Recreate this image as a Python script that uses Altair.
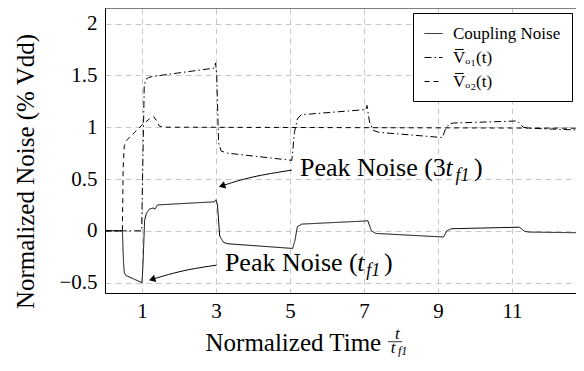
import altair as alt
import pandas as pd

FONT = "Liberation Serif"

# ---- data ----
series_names = ["Coupling Noise", "V\u0305\u2092\u2081(t)", "V\u0305\u2092\u2082(t)"]

cn_x = [0, 0.47, 0.50, 0.52, 0.56, 1.00, 1.03, 1.07, 1.12, 1.20, 1.30, 1.35, 1.42, 2.96, 3.00,
        3.04, 3.10, 3.20, 3.32, 5.07, 5.13, 5.20, 5.32, 7.06, 7.10, 7.20, 7.32, 9.15, 9.24, 9.36,
        11.20, 11.34, 11.46, 13.0]
cn_y = [0, 0, -0.30, -0.40, -0.43, -0.50, -0.30, 0.10, 0.17, 0.21, 0.22, 0.21, 0.25, 0.28, 0.30,
        0.25, -0.05, -0.11, -0.125, -0.17, -0.10, 0.04, 0.065, 0.095, 0.10, 0.00, -0.025, -0.06, 0.00, 0.02,
        0.035, -0.005, -0.012, -0.02]

v1_x = [0, 0.99, 1.03, 1.06, 1.10, 1.18, 1.30, 2.95, 2.99, 3.02, 3.07, 3.14, 3.30, 5.05, 5.12,
        5.20, 5.30, 7.05, 7.08, 7.15, 7.25, 7.40, 9.12, 9.20, 9.30, 9.42, 11.15, 11.30, 11.45, 13.0]
v1_y = [0, 0, 0.80, 1.40, 1.46, 1.48, 1.49, 1.57, 1.62, 1.50, 0.85, 0.77, 0.75, 0.68, 0.95,
        1.08, 1.12, 1.17, 1.21, 1.05, 0.97, 0.95, 0.90, 0.98, 1.03, 1.04, 1.06, 1.00, 0.99, 0.97]

v2_x = [0, 0.47, 0.49, 0.52, 0.60, 0.80, 1.00, 1.20, 1.32, 1.40, 1.47, 1.60, 13.0]
v2_y = [0, 0, 0.60, 0.82, 0.88, 0.95, 1.02, 1.08, 1.10, 1.06, 1.01, 1.00, 0.99]

x_ticks = [1, 3, 5, 7, 9, 11]
y_ticks = [-0.5, 0, 0.5, 1, 1.5, 2]
x_domain = [0, 12.73]
y_domain = [-0.6, 2.15]
dashes = [[1, 0], [7, 3, 1.5, 3], [5, 4]]

# annotation pieces: x, y, text, size, italic
ann_x = [5.27, 9.20, 9.47, 9.97, 3.24, 6.82, 7.06, 7.54, 7.84, 7.72, 7.92]
ann_y = [0.531, 0.531, 0.48, 0.531, -0.389, -0.389, -0.437, -0.389, -1.04, -1.175, -1.20]
ann_t = ["Peak Noise (3", "t", "f1", ")", "Peak Noise (", "t", "f1", ")", "t", "t", "f1"]
ann_s = [26, 26, 18, 26, 26, 26, 18, 26, 17, 17, 12]
ann_i = [0, 1, 1, 0, 0, 1, 1, 0, 1, 1, 1]

# arrows (start, mid, end near tip)
arr_id = [1, 1, 1, 2, 2, 2]
arr_x = [5.05, 3.92, 3.19, 3.02, 2.11, 1.30]
arr_y = [0.586, 0.522, 0.437, -0.331, -0.379, -0.465]
head_x = [3.19, 1.30]
head_y = [0.437, -0.465]
head_a = [252, 253]

# fraction bar of the x title
frac_x = [7.65]
frac_x2 = [8.03]
frac_y = [-1.07]

# ---- tables ----
rows = []
for name, xs, ys in [(series_names[0], cn_x, cn_y), (series_names[1], v1_x, v1_y), (series_names[2], v2_x, v2_y)]:
    for i, (a, b) in enumerate(zip(xs, ys)):
        rows.append({"series": name, "x": a, "y": b, "order": i})
df = pd.DataFrame(rows)

ann = pd.DataFrame({"x": ann_x, "y": ann_y, "text": ann_t, "size": ann_s, "it": ann_i})
arr = pd.DataFrame({"id": arr_id, "x": arr_x, "y": arr_y, "order": list(range(len(arr_x)))})
heads = pd.DataFrame({"x": head_x, "y": head_y, "a": head_a})
frac = pd.DataFrame({"x": frac_x, "x2": frac_x2, "y": frac_y})

W, H = 471, 285
xs_ = alt.Scale(domain=x_domain, nice=False, zero=False)
ys_ = alt.Scale(domain=y_domain, nice=False, zero=False)

x_axis = alt.Axis(values=x_ticks, title="Normalized Time", titleAlign="left",
                  titleX=100, titleY=57, titleBaseline="alphabetic",
                  labelPadding=7, format="d", labelFont=FONT, titleFont=FONT,
                  labelFontSize=21, titleFontSize=25)
y_axis = alt.Axis(values=y_ticks, format="~g", title="Normalized Noise (% Vdd)",
                  titleX=-72, titleY=163, titleBaseline="alphabetic",
                  titleAlign="center", labelPadding=8, labelFont=FONT, titleFont=FONT,
                  labelFontSize=21, titleFontSize=25)
X = alt.X("x:Q", scale=xs_, axis=x_axis)
Y = alt.Y("y:Q", scale=ys_, axis=y_axis)

lines = alt.Chart(df).mark_line(color="black", strokeWidth=1, clip=True).encode(
    x=X, y=Y,
    strokeDash=alt.StrokeDash("series:N", scale=alt.Scale(domain=series_names, range=dashes),
                              legend=alt.Legend(title=None, orient="none", legendX=308, legendY=5,
                                                padding=11, strokeColor="black", fillColor="white",
                                                rowPadding=6, labelFont=FONT, labelFontSize=17,
                                                symbolType="stroke", symbolSize=324,
                                                symbolStrokeWidth=1, symbolStrokeColor="black",
                                                labelOffset=10, cornerRadius=0, labelColor="black")),
    order="order:Q",
)

txt_n = alt.Chart(ann[ann.it == 0]).mark_text(font=FONT, align="left", baseline="alphabetic", color="black").encode(
    x=X, y=Y, text="text:N", size=alt.Size("size:Q", scale=None))
txt_i = alt.Chart(ann[ann.it == 1]).mark_text(font=FONT, fontStyle="italic", align="left", baseline="alphabetic", color="black").encode(
    x=X, y=Y, text="text:N", size=alt.Size("size:Q", scale=None))

arrows = alt.Chart(arr).mark_line(color="black", strokeWidth=1, interpolate="basis").encode(
    x=X, y=Y, detail="id:N", order="order:Q")
arrow_heads = alt.Chart(heads).mark_point(shape="triangle", filled=True, color="black", size=55, opacity=1).encode(
    x=X, y=Y, angle=alt.Angle("a:Q", scale=None))

bar = alt.Chart(frac).mark_rule(color="black", strokeWidth=0.8).encode(
    x=X, x2="x2:Q", y=Y)

top = alt.Chart(frac).mark_rule(color="black", strokeWidth=1).encode(
    x=alt.value(0), x2=alt.value(W), y=alt.value(0))

chart = alt.layer(lines, arrows, arrow_heads, txt_n, txt_i, bar, top).properties(
    width=W, height=H,
    padding={"left": 97, "top": 0, "right": 0, "bottom": 64},
    autosize=alt.AutoSizeParams(type="none"),
).configure(
    font=FONT,
    style={"guide-label": {"font": FONT}, "guide-title": {"font": FONT}},
).configure_view(stroke=None).configure_axis(
    grid=True, gridDash=[6, 4], gridColor="#c8c8c8", gridWidth=1,
    ticks=False, domainColor="black", domainWidth=1,
    labelFont=FONT, titleFont=FONT, labelColor="black", titleColor="black",
    titleFontWeight="normal", labelFontSize=21, titleFontSize=25,
)

chart.save("out.html", embed_options={"renderer": "svg", "actions": False})
